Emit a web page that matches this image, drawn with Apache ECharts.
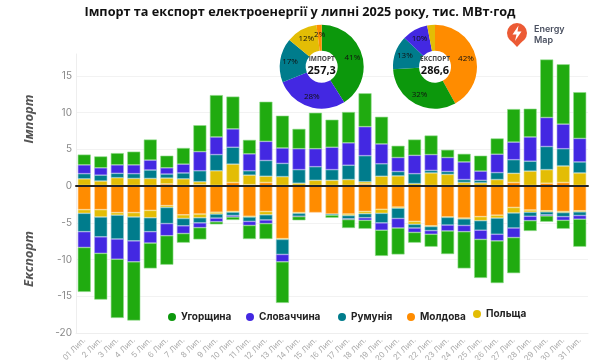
<!DOCTYPE html>
<html>
<head>
<meta charset="utf-8">
<script src="https://cdn.jsdelivr.net/npm/echarts@6/dist/echarts.min.js"></script>
<style>
  html, body { margin: 0; padding: 0; background: #fff; }
  #chart { width: 600px; height: 360px; }
</style>
</head>
<body>
<div id="chart"></div>
<script>
const days = ['01 Лип.','2 Лип.','3 Лип.','4 Лип.','5 Лип.','6 Лип.','7 Лип.','8 Лип.','9 Лип.','10 Лип.','11 Лип.','12 Лип.','13 Лип.','14 Лип.','15 Лип.','16 Лип.','17 Лип.','18 Лип.','19 Лип.','20 Лип.','21 Лип.','22 Лип.','23 Лип.','24 Лип.','25 Лип.','26 Лип.','27 Лип.','28 Лип.','29 Лип.','30 Лип.','31 Лип.'];

const importMoldova = [.1,.1,.1,.1,.1,.3,.1,.2,.1,.5,.2,.5,.1,.1,.1,.1,.1,.3,.1,.1,.1,.1,.1,.1,.1,.1,.5,.1,.4,.5,.1];
const importPoland = [.9,.6,1.05,.95,.95,.8,.9,.4,2,2.5,1.3,.85,1.2,.3,.7,.7,.8,.3,1.25,1.3,.25,1.7,1.5,.4,.35,.8,1.25,1.95,1.85,2.25,1.7];
const importRomania = [.7,.8,.6,.65,1.15,.55,.8,1.5,2.2,2.3,.6,2.15,1.8,1.85,1.85,1.45,1.95,3.55,1.7,.6,1.35,.35,.4,.4,.35,.95,1.85,1.35,3.15,2.35,1.5];
const importSlovakia = [1.2,1,1.15,1.2,1.35,.85,1.2,2.6,2.4,2.5,2.3,2.6,2.1,2.85,2.45,3.05,3.05,3.95,2.7,1.9,2.5,2.15,1.9,2.4,1.25,2.5,2.4,3.3,3.95,3.35,3.2];
const importHungary = [1.4,1.55,1.6,1.8,2.8,1.65,2.2,3.6,5.7,4.4,1.9,5.4,4.4,2.7,4.9,3.75,4.2,4.55,3.7,1.6,2.15,2.6,1.05,1.1,2.1,2.15,4.5,3.85,7.9,8.15,6.3];

const exportMoldova = [-3.2,-3.2,-3.6,-3.6,-3.3,-2.65,-3.9,-3.8,-3.55,-3.45,-4.1,-3.45,-7.15,-3.6,-3.6,-3.8,-3.8,-3.45,-3.15,-2.85,-4.8,-5.4,-4.2,-4.35,-4.15,-3.95,-2.9,-3.25,-3.35,-3.45,-3.35];
const exportPoland = [-.5,-1,-.35,-.6,-1,-.25,-.5,-.5,-.25,-.1,-.1,-.45,-.1,-.1,null,null,-.2,-.3,-.55,-.15,-.4,-.1,-.05,-.1,-.55,-.4,-.75,-.3,-.15,-.15,-.15];
const exportRomania = [-2.5,-2.7,-3.25,-3.25,-1.9,-2.2,-1,-.7,-.55,-.45,-.6,-.7,-2.05,-.4,null,-.15,-.45,-.55,-1.3,-1.4,-.5,-.55,-1.05,-.9,-1.3,-2.2,-2.05,-.55,-.4,-.55,-.5];
const exportSlovakia = [-2.15,-2.25,-2.75,-2.85,-1.55,-1.65,-1.05,-.65,-.5,-.2,-.55,-.5,-1,-.05,null,null,-.1,-.35,-1,-1.3,-.6,-.5,-.8,-.85,-1.25,-.9,-1.3,-.6,-.15,-.5,-.5];
const exportHungary = [-6.05,-6.3,-8,-8,-3.45,-3.95,-1.25,-1.6,-.35,-.4,-1.85,-2.1,-5.6,-.5,null,-.35,-1.15,-1.15,-3.5,-3.6,-1.4,-1.7,-3.15,-5,-5.25,-5.75,-4.85,-1.4,-.8,-1.15,-3.75];

const countries = ['Молдова','Польща','Румунія','Словаччина','Угорщина'];

const importShare = [41,28,17,12,2];
const importShareNames = ['Угорщина','Словаччина','Румунія','Польща','Молдова'];
const exportShare = [42,32,13,10,3];
const exportShareNames = ['Молдова','Угорщина','Румунія','Словаччина','Польща'];

const barColors = {'Угорщина':'#20ab10','Словаччина':'#4328e2','Румунія':'#007c8c','Молдова':'#ff8c00','Польща':'#e3bd05'};
const barBorders = {'Угорщина':'#8fdc8a','Словаччина':'#a89bf0','Румунія':'#8cc8d0','Молдова':'#ffd09a','Польща':'#f3e390'};
const pieColors = {'Угорщина':'#0c980c','Словаччина':'#4328e2','Румунія':'#007c8c','Молдова':'#ff8c00','Польща':'#e3bd05'};

const importSeries = [importMoldova, importPoland, importRomania, importSlovakia, importHungary];
const exportSeries = [exportMoldova, exportPoland, exportRomania, exportSlovakia, exportHungary];

function barSeries(name, data) {
  return {
    name: name,
    type: 'bar',
    stack: 'total',
    barWidth: 13,
    data: data,
    itemStyle: { color: barColors[name], borderColor: barBorders[name], borderWidth: 0.6 }
  };
}

function pieSeries(center, names, values) {
  return {
    type: 'pie',
    center: center,
    radius: [16, 42],
    startAngle: 90,
    silent: true,
    z: 6,
    label: { position: 'inside', formatter: '{c}%', fontSize: 8, fontFamily: 'Open Sans', color: '#111' },
    labelLine: { show: false },
    data: names.map((n, i) => ({ name: n, value: values[i], itemStyle: { color: pieColors[n] } }))
  };
}

// the legend entries in the source are spaced unevenly, so each one gets its own block
function legendBlock(name, left, top) {
  return {
    left: left,
    top: top,
    itemWidth: 8,
    itemHeight: 8,
    icon: 'circle',
    padding: 0,
    itemStyle: { borderWidth: 0 },
    textStyle: { fontFamily: 'Inter', fontWeight: 'bold', fontSize: 10, color: '#222' },
    data: [{ name: name, itemStyle: { color: pieColors[name] } }]
  };
}

const chart = echarts.init(document.getElementById('chart'), null, { renderer: 'canvas' });
chart.setOption({
  animation: false,
  backgroundColor: '#fff',
  title: {
    text: 'Імпорт та експорт електроенергії у липні 2025 року, тис. МВт·год',
    left: 'center',
    top: 1,
    textStyle: { fontFamily: 'Open Sans', fontWeight: 'bold', fontSize: 12.7, color: '#111' }
  },
  grid: { left: 76, right: 12, top: 54, bottom: 27, outerBoundsMode: 'none' },
  legend: [
    legendBlock('Угорщина', 168, 312),
    legendBlock('Словаччина', 246, 312),
    legendBlock('Румунія', 338, 312),
    legendBlock('Молдова', 407, 312),
    legendBlock('Польща', 473, 309)
  ],
  xAxis: [
    {
      type: 'category',
      data: days,
      axisLine: { onZero: false, lineStyle: { color: '#eeeeee' } },
      axisTick: { show: false },
      axisLabel: { rotate: 45, fontFamily: 'Inter', fontSize: 8, color: '#aaa', margin: 6, interval: 0 }
    },
    {
      type: 'category',
      data: days,
      position: 'bottom',
      z: 5,
      axisLine: { onZero: true, lineStyle: { color: '#222', width: 2 } },
      axisTick: { show: false },
      axisLabel: { show: false }
    }
  ],
  yAxis: {
    type: 'value',
    min: -20,
    max: 18,
    interval: 5,
    axisLine: { show: true, lineStyle: { color: '#eeeeee' } },
    axisTick: { show: false },
    axisLabel: { fontFamily: 'Inter', fontSize: 10, color: '#888', margin: 4, showMaxLabel: false },
    splitLine: { showMaxLine: false, lineStyle: { color: '#f2f2f2' } }
  },
  graphic: [
    { type: 'circle', shape: { cx: 321.7, cy: 66.7, r: 17 }, style: { fill: '#fff' }, z: 3 },
    { type: 'circle', shape: { cx: 435, cy: 66.7, r: 17 }, style: { fill: '#fff' }, z: 3 },
    { type: 'text', x: 321.7, y: 59, z: 7, style: { text: 'ІМПОРТ', align: 'center', verticalAlign: 'middle', font: 'bold 6.5px "Open Sans"', fill: '#444' } },
    { type: 'text', x: 321.7, y: 71, z: 7, style: { text: '257,3', align: 'center', verticalAlign: 'middle', font: 'bold 11px "Open Sans"', fill: '#111' } },
    { type: 'text', x: 435, y: 59, z: 7, style: { text: 'ЕКСПОРТ', align: 'center', verticalAlign: 'middle', font: 'bold 6.5px "Open Sans"', fill: '#444' } },
    { type: 'text', x: 435, y: 71, z: 7, style: { text: '286,6', align: 'center', verticalAlign: 'middle', font: 'bold 11px "Open Sans"', fill: '#111' } },
    { type: 'text', x: 29, y: 119, rotation: Math.PI / 2, z: 7, style: { text: 'Імпорт', align: 'center', verticalAlign: 'middle', font: 'italic bold 13px "Open Sans"', fill: '#555' } },
    { type: 'text', x: 29, y: 259, rotation: Math.PI / 2, z: 7, style: { text: 'Експорт', align: 'center', verticalAlign: 'middle', font: 'italic bold 13px "Open Sans"', fill: '#555' } },
    { type: 'circle', shape: { cx: 517, cy: 33, r: 10 }, z: 7, style: { fill: '#ec5a34' } },
    { type: 'polygon', shape: { points: [[508.5, 38], [525.5, 38], [517, 47]] }, z: 7, style: { fill: '#ec5a34' } },
    { type: 'polygon', shape: { points: [[518.5, 25.5], [512.5, 34.5], [516.5, 34.5], [515, 41], [521.5, 31.5], [517.5, 31.5]] }, z: 8, style: { fill: '#fff' } },
    { type: 'text', x: 534, y: 29.5, z: 7, style: { text: 'Energy', align: 'left', verticalAlign: 'middle', font: '600 9px "Inter"', fill: '#4a5060' } },
    { type: 'text', x: 534, y: 40, z: 7, style: { text: 'Map', align: 'left', verticalAlign: 'middle', font: '600 9px "Inter"', fill: '#4a5060' } }
  ],
  series: [
    ...countries.map((n, i) => barSeries(n, importSeries[i])),
    ...countries.map((n, i) => barSeries(n, exportSeries[i])),
    pieSeries([321.7, 66.7], importShareNames, importShare),
    pieSeries([435, 66.7], exportShareNames, exportShare)
  ]
});
</script>
</body>
</html>
